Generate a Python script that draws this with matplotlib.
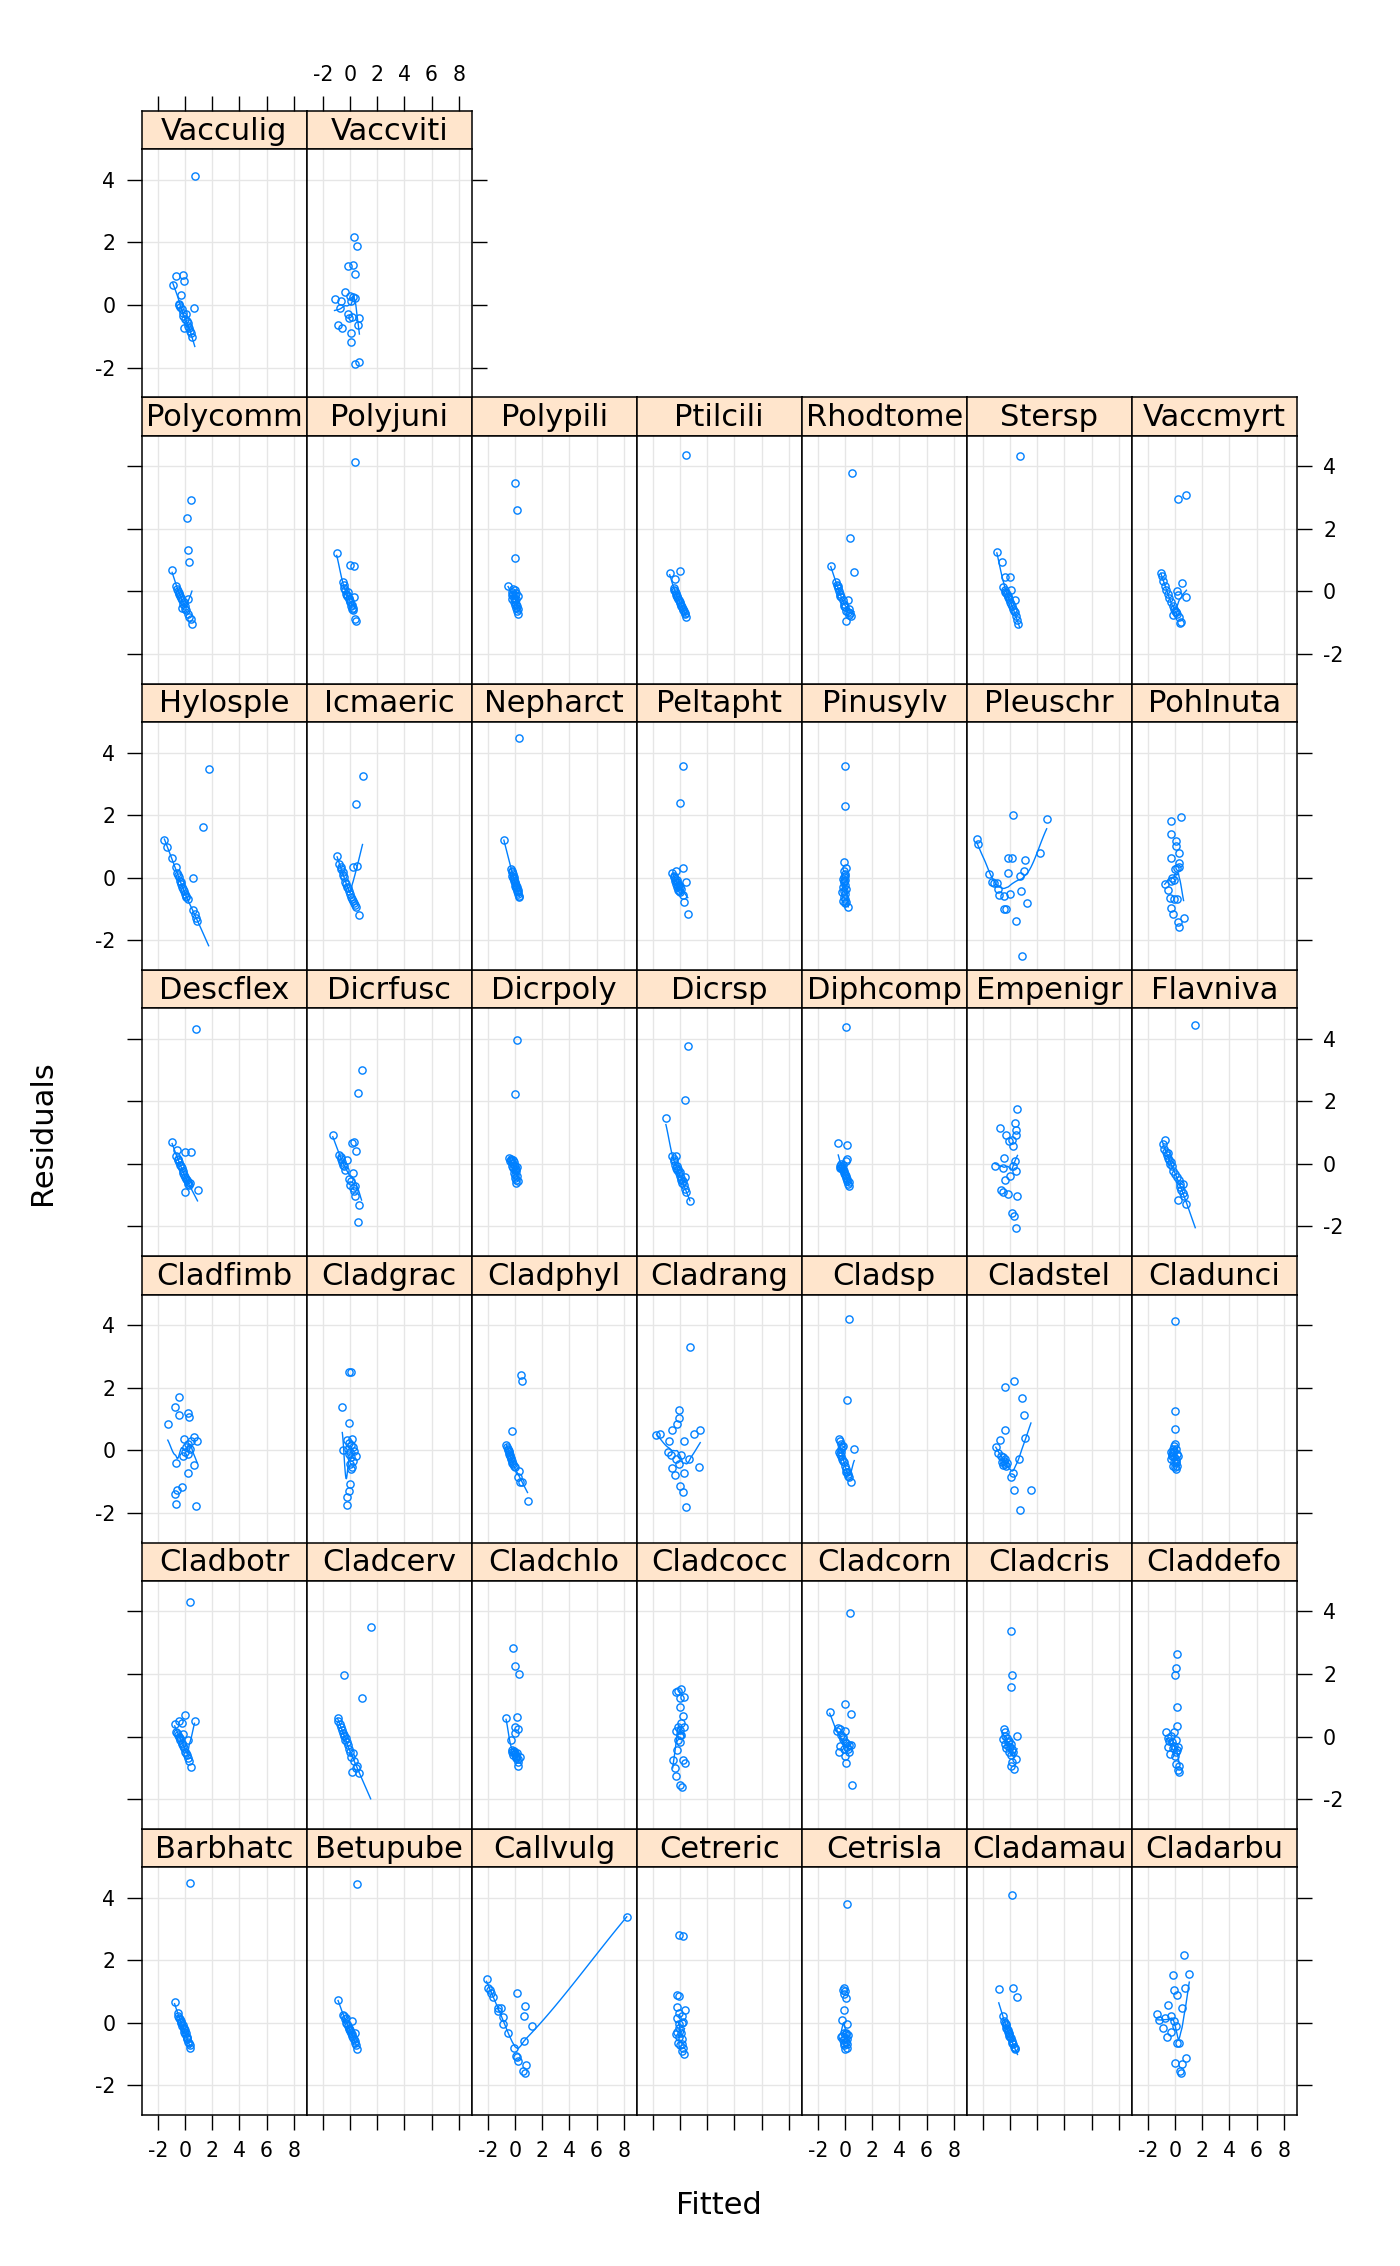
import matplotlib
matplotlib.use("Agg")
import matplotlib.pyplot as plt
import numpy as np

# --- residuals vs fitted, one panel per species (lattice order: bottom-left first) ---
species = [
    "Barbhatc", "Betupube", "Callvulg", "Cetreric", "Cetrisla", "Cladamau", "Cladarbu",
    "Cladbotr", "Cladcerv", "Cladchlo", "Cladcocc", "Cladcorn", "Cladcris", "Claddefo",
    "Cladfimb", "Cladgrac", "Cladphyl", "Cladrang", "Cladsp", "Cladstel", "Cladunci",
    "Descflex", "Dicrfusc", "Dicrpoly", "Dicrsp", "Diphcomp", "Empenigr", "Flavniva",
    "Hylosple", "Icmaeric", "Nepharct", "Peltapht", "Pinusylv", "Pleuschr", "Pohlnuta",
    "Polycomm", "Polyjuni", "Polypili", "Ptilcili", "Rhodtome", "Stersp", "Vaccmyrt",
    "Vacculig", "Vaccviti",
]

barbhatc_fit = [0.39, -0.77, -0.55, -0.5, -0.44, -0.33, -0.28, -0.22, -0.11, -0.06, 0, 0.11, 0.17, 0.22, 0.33, 0.39, -0.39, -0.28, -0.17, -0.11, 0, 0.06, 0.17, 0.28]
barbhatc_res = [4.47, 0.66, 0.33, 0.22, 0.15, 0.06, -0.02, -0.11, -0.19, -0.28, -0.36, -0.45, -0.53, -0.62, -0.7, -0.79, 0.11, 0.02, -0.06, -0.15, -0.23, -0.32, -0.49, -0.66]
betupube_fit = [0.5, -0.88, -0.5, -0.33, 0.11, -0.28, -0.17, -0.06, 0.39, 0.06, 0.17, 0.28, 0.39, 0.5, -0.39, -0.22, -0.11, 0, 0.11, 0.22, 0.33, 0.45, -0.45, 0.03]
betupube_res = [4.44, 0.73, 0.26, 0.17, 0.06, 0.01, -0.1, -0.2, -0.31, -0.31, -0.41, -0.52, -0.63, -0.85, 0.12, -0.04, -0.15, -0.26, -0.36, -0.47, -0.58, -0.72, 0.22, -0.24]
callvulg_fit = [8.23, -2.1, -1.99, -1.82, -1.6, 0.11, -1.27, -1.05, 0.77, -0.88, 0.66, -0.88, 1.22, -0.5, 0.66, -0.06, 0.06, 0.22, 0.83, 0.61, 0.72, -1.22, -1.77, 0.11]
callvulg_res = [3.39, 1.39, 1.13, 1.06, 0.84, 0.97, 0.47, 0.46, 0.54, 0.19, 0.22, -0.04, -0.09, -0.34, -0.57, -0.81, -1.05, -1.21, -1.35, -1.55, -1.61, 0.38, 0.97, -1.1]
cetreric_fit = [-0.06, 0.22, -0.22, -0.06, -0.22, 0.33, -0.06, 0.11, -0.22, 0.22, -0.06, 0.17, -0.22, -0.33, -0.06, 0.11, -0.17, 0, 0.22, 0.11, 0.28, -0.11, 0.06, 0.17]
cetreric_res = [2.8, 2.78, 0.9, 0.86, 0.51, 0.4, 0.33, 0.22, 0.14, 0.04, -0.04, -0.02, -0.28, -0.36, -0.45, -0.52, -0.63, -0.71, -0.79, -0.89, -1.0, -0.15, -0.31, -0.68]
cetrisla_fit = [0.17, -0.11, 0, 0.06, -0.11, -0.22, 0.11, -0.11, 0.06, -0.22, 0, 0.17, -0.17, 0.06, -0.06, 0.11, -0.11, 0.17, 0, -0.28, 0.22, -0.06, -0.17, 0.06]
cetrisla_res = [3.81, 1.13, 1.02, 0.81, 0.41, 0.09, -0.04, -0.31, -0.36, -0.41, -0.47, -0.52, -0.55, -0.6, -0.64, -0.68, -0.72, -0.79, -0.84, -0.45, -0.39, 0.91, 1.05, -0.34]
cladamau_fit = [0.17, -0.83, 0.22, 0.55, -0.5, -0.39, -0.33, -0.28, -0.17, -0.11, -0.06, 0.06, 0.11, 0.22, 0.28, 0.39, -0.33, -0.22, -0.11, 0, 0.17, 0.33, -0.17, -0.44]
cladamau_res = [4.09, 1.09, 1.13, 0.84, 0.22, 0.01, -0.07, -0.16, -0.24, -0.33, -0.41, -0.5, -0.59, -0.67, -0.76, -0.84, -0.03, -0.2, -0.37, -0.46, -0.63, -0.8, -0.29, 0.06]
cladarbu_fit = [0.66, -0.17, 1.05, -0.06, 0.72, 0.11, -0.55, 0.55, -1.33, -0.77, -0.28, -1.16, -0.06, -0.88, 0.06, -0.28, -0.61, 0.11, 0.28, 0.83, 0, 0.5, 0.33, 0.44]
cladarbu_res = [2.18, 1.53, 1.57, 1.05, 1.1, 0.9, 0.56, 0.46, 0.28, 0.17, 0.22, 0.09, 0.06, -0.17, -0.1, -0.28, -0.44, -0.65, -0.63, -1.14, -1.27, -1.31, -1.55, -1.6]
cladbotr_fit = [0.35, 0, 0.7, -0.76, -0.47, -0.22, -0.63, -0.54, -0.13, -0.44, -0.35, 0.19, -0.25, -0.16, -0.06, 0.03, 0.13, 0.22, 0.32, 0.47, -0.57, -0.38, -0.19, 0.06]
cladbotr_res = [4.31, 0.68, 0.51, 0.41, 0.5, 0.42, 0.16, 0.05, 0.09, -0.03, -0.12, -0.12, -0.2, -0.29, -0.37, -0.48, -0.59, -0.69, -0.78, -0.98, 0.11, -0.05, -0.24, -0.53]
cladcerv_fit = [1.52, -0.41, 0.89, -0.92, -0.85, -0.76, -0.66, -0.6, -0.51, -0.41, -0.32, -0.22, -0.09, 0.22, 0.06, 0.32, 0.51, 0.13, 0.66, -0.47, -0.35, -0.16, 0, 0.41]
cladcerv_res = [3.5, 1.96, 1.24, 0.58, 0.49, 0.41, 0.32, 0.21, 0.11, 0.02, -0.05, -0.18, -0.39, -0.53, -0.64, -0.78, -0.94, -1.12, -1.15, 0.05, -0.11, -0.27, -0.48, -1.01]
cladchlo_fit = [-0.13, 0.03, 0.28, -0.66, 0.13, -0.03, 0.22, 0.03, -0.28, -0.19, -0.09, 0, 0.09, 0.38, 0.19, 0.22, -0.25, -0.13, 0.06, -0.06, 0.16, 0.1, -0.02, 0.25]
cladchlo_res = [2.84, 2.24, 2.0, 0.59, 0.61, 0.29, 0.24, 0.11, -0.12, -0.43, -0.51, -0.56, -0.61, -0.66, -0.72, -0.93, -0.48, -0.59, -0.69, -0.46, -0.53, -0.64, -0.52, -0.8]
cladcocc_fit = [-0.28, -0.16, 0.09, 0.28, -0.03, -0.03, 0.22, 0.09, -0.16, 0.32, -0.03, -0.28, 0.09, -0.16, 0.03, -0.22, -0.54, 0.19, 0.35, -0.35, -0.32, 0.03, 0.16, -0.03]
cladcocc_res = [1.44, 1.46, 1.53, 1.27, 1.23, 0.96, 0.67, 0.43, 0.29, 0.32, 0.21, 0.18, 0.05, -0.11, -0.18, -0.43, -0.75, -0.75, -0.85, -0.99, -1.25, -1.55, -1.6, 0.05]
cladcorn_fit = [0.34, 0.03, 0.42, -1.13, -0.52, -0.37, 0, -0.26, -0.13, -0.03, 0.29, 0.45, 0.16, -0.45, 0.31, 0, 0.08, 0.5, -0.6, -0.18, 0.1, -0.08, 0.24, -0.34]
cladcorn_res = [3.94, 1.04, 0.71, 0.77, 0.27, 0.24, 0.17, 0.05, -0.07, -0.18, -0.27, -0.26, -0.34, -0.5, -0.5, -0.63, -0.85, -1.56, 0.19, -0.02, -0.2, -0.39, -0.41, -0.29]
cladcris_fit = [0.05, 0.16, 0.1, -0.47, -0.39, 0.52, -0.52, -0.21, -0.08, -0.34, 0.05, -0.26, 0.18, -0.08, 0.05, 0.45, 0.13, 0.05, 0.26, -0.39, -0.16, 0, 0.24, -0.13]
cladcris_res = [3.36, 1.96, 1.58, 0.25, 0.14, 0.02, -0.07, -0.05, -0.13, -0.23, -0.23, -0.37, -0.39, -0.48, -0.59, -0.73, -0.8, -0.93, -1.05, 0.03, -0.29, -0.34, -0.5, -0.18]
claddefo_fit = [0.18, 0.1, -0.03, 0.13, 0.18, -0.65, -0.08, -0.55, -0.42, 0.1, -0.24, -0.55, -0.1, 0.24, -0.37, 0.05, 0.1, 0.31, 0.21, 0.31, -0.29, -0.16, -0.03, 0.16]
claddefo_res = [2.64, 2.18, 1.96, 0.93, 0.33, 0.14, 0.14, -0.05, -0.13, -0.11, -0.18, -0.34, -0.29, -0.34, -0.55, -0.48, -0.87, -0.93, -1.07, -1.12, 0.03, -0.37, -0.61, -0.42]
cladfimb_fit = [-0.44, -0.76, -0.47, 0.25, 0.32, -1.27, -0.06, 0.63, 0.89, 0.47, 0.25, 0.09, 0.35, 0, -0.16, 0.22, -0.66, 0.66, 0.22, -0.22, -0.6, -0.76, -0.66, 0.82]
cladfimb_res = [1.69, 1.39, 1.12, 1.18, 1.07, 0.83, 0.37, 0.43, 0.28, 0.3, 0.19, 0.11, 0.03, -0.05, -0.2, -0.13, -0.41, -0.47, -0.74, -1.17, -1.28, -1.4, -1.71, -1.78]
cladgrac_fit = [-0.09, 0.09, -0.57, -0.06, -0.22, 0.16, -0.09, 0.06, -0.54, -0.16, 0.32, 0.41, -0.06, 0.09, 0.22, 0.03, 0.16, 0.09, -0.03, -0.09, -0.25, -0.19, 0, 0.19]
cladgrac_res = [2.51, 2.51, 1.37, 0.88, 0.33, 0.35, 0.24, 0.16, 0.01, 0.05, -0.02, -0.18, -0.13, -0.23, -0.34, -0.45, -0.55, -0.61, -1.09, -1.3, -1.48, -1.76, -0.07, 0.09]
cladphyl_fit = [0.44, 0.51, -0.25, -0.63, -0.57, -0.51, -0.44, -0.38, -0.32, -0.25, -0.19, -0.09, 0.32, 0.22, 0.54, 0.38, 0.92, -0.54, -0.47, -0.41, -0.35, -0.28, -0.16, -0.03]
cladphyl_res = [2.39, 2.21, 0.6, 0.18, 0.11, 0.01, -0.07, -0.16, -0.24, -0.33, -0.4, -0.5, -0.66, -0.87, -1.03, -1.01, -1.62, 0.05, -0.03, -0.12, -0.2, -0.29, -0.45, -0.55]
cladrang_fit = [0.73, -0.06, -0.06, -0.22, -0.57, -1.74, -1.46, 1.01, 1.49, -0.79, 0.32, -0.85, -0.66, 0.09, -0.28, 0.63, -0.06, -0.57, 1.42, 0.32, -0.38, 0, 0.25, 0.47]
cladrang_res = [3.3, 1.29, 1.02, 0.85, 0.65, 0.48, 0.51, 0.51, 0.65, 0.28, 0.3, -0.07, -0.16, -0.16, -0.29, -0.29, -0.43, -0.57, -0.52, -0.74, -0.8, -1.14, -1.33, -1.8]
cladsp_fit = [0.26, 0.18, -0.45, -0.34, -0.29, -0.16, 0.68, -0.37, -0.29, -0.24, -0.16, 0.05, 0.13, 0.21, 0.29, 0.42, -0.42, -0.31, -0.21, -0.26, -0.1, -0.03, 0.08, 0.24]
cladsp_res = [4.21, 1.6, 0.35, 0.28, 0.19, 0.14, 0.03, -0.11, -0.18, -0.27, -0.34, -0.61, -0.68, -0.77, -0.87, -1.01, -0.05, 0.03, 0.09, -0.07, -0.39, -0.5, -0.71, -0.82]
cladstel_fit = [0.31, -0.34, 0.86, 1.05, -0.37, 1.13, -0.73, -1.05, -0.86, -0.68, -0.5, -0.34, -0.6, -0.39, -0.21, 0.63, 0.21, 0.05, 0.29, 1.54, 0.76, -0.45, -0.55, -0.29]
cladstel_res = [2.23, 2.01, 1.66, 1.12, 0.66, 0.39, 0.34, 0.09, -0.1, -0.18, -0.23, -0.29, -0.37, -0.45, -0.41, -0.29, -0.74, -0.84, -1.28, -1.26, -1.9, -0.34, -0.48, -0.5]
cladunci_fit = [0, 0, 0, 0, -0.08, 0.05, -0.29, -0.16, 0.16, -0.21, -0.05, 0.1, -0.29, -0.1, 0.05, -0.16, 0, 0.1, -0.24, 0.21, -0.08, 0.08, 0.18, -0.13]
cladunci_res = [4.12, 1.24, 0.68, 0.19, 0.12, 0.05, -0.05, -0.07, -0.13, -0.2, -0.23, -0.29, -0.29, -0.37, -0.41, -0.5, -0.55, -0.61, -0.13, -0.2, -0.02, -0.34, -0.5, 0.03]
descflex_fit = [0.82, -0.95, -0.6, 0.03, 0.41, -0.7, -0.54, -0.44, -0.35, -0.25, -0.16, -0.06, 0.03, 0.13, 0.22, 0.32, 0.92, 0.03, 0.38, -0.51, -0.32, -0.13, 0.06, 0.25]
descflex_res = [4.31, 0.69, 0.44, 0.39, 0.38, 0.25, 0.16, 0.07, -0.02, -0.13, -0.23, -0.34, -0.43, -0.5, -0.59, -0.66, -0.82, -0.9, -0.61, 0.12, -0.07, -0.29, -0.47, -0.63]
dicrfusc_fit = [0.85, 0.57, -1.27, 0.16, 0.32, 0.44, -0.79, -0.7, -0.57, -0.25, -0.44, -0.35, 0.19, -0.09, 0, 0.38, 0.22, 0.35, 0.66, 0.6, -0.63, -0.51, 0.06, 0.28]
dicrfusc_res = [2.99, 2.26, 0.94, 0.67, 0.69, 0.41, 0.27, 0.16, 0.05, 0.12, -0.07, -0.18, -0.29, -0.48, -0.66, -0.69, -0.77, -1.01, -1.31, -1.86, 0.22, -0.02, -0.56, -0.87]
dicrpoly_fit = [0.16, -0.03, -0.44, -0.28, -0.13, -0.38, -0.22, -0.09, 0.03, 0.13, -0.16, -0.03, 0.09, -0.09, 0.03, 0.16, 0, 0.09, 0.19, 0.06, -0.32, -0.19, -0.06, 0.06]
dicrpoly_res = [3.95, 2.24, 0.19, 0.16, 0.14, 0.09, 0.03, -0.02, -0.05, -0.11, -0.13, -0.18, -0.23, -0.29, -0.34, -0.39, -0.45, -0.5, -0.55, -0.61, 0.12, -0.07, 0.05, -0.16]
dicrsp_fit = [0.57, 0.35, -1.04, -0.6, -0.32, -0.47, -0.38, -0.28, -0.19, -0.09, 0, 0.09, 0.35, 0.19, 0.28, 0.38, 0.73, -0.41, -0.22, -0.13, -0.03, 0.06, 0.16, 0.45]
dicrsp_res = [3.77, 2.06, 1.47, 0.25, 0.25, 0.09, -0.02, -0.13, -0.2, -0.29, -0.37, -0.45, -0.42, -0.55, -0.66, -0.8, -1.17, 0.16, -0.05, -0.16, -0.27, -0.5, -0.61, -0.9]
diphcomp_fit = [0.08, -0.5, 0.16, 0.13, 0.05, -0.34, -0.26, -0.18, -0.1, -0.03, 0.05, 0.13, 0.21, 0.29, -0.29, -0.21, -0.13, -0.05, 0.03, 0.1, 0.18, 0.26, -0.37, -0.16]
diphcomp_res = [4.37, 0.68, 0.62, 0.17, 0.1, -0.07, -0.13, -0.2, -0.29, -0.36, -0.45, -0.53, -0.63, -0.69, -0.01, -0.1, -0.17, -0.23, -0.32, -0.39, -0.48, -0.58, -0.14, -0.04]
empenigr_fit = [0.5, 0.37, -0.73, 0.45, -0.26, 0.42, -0.08, 0.18, 0.24, -0.45, -1.13, -0.55, 0.34, 0.24, 0.47, 0.03, -0.39, -0.65, -0.52, -0.16, 0.55, 0.18, 0.26, 0.47]
empenigr_res = [1.77, 1.31, 1.15, 1.08, 0.94, 0.94, 0.73, 0.76, 0.57, 0.19, -0.06, -0.14, 0.1, -0.07, -0.22, -0.38, -0.5, -0.82, -0.9, -0.97, -1.01, -1.57, -1.68, -2.04]
flavniva_fit = [1.49, -0.76, -0.89, -0.79, -0.68, -0.58, -0.5, -0.42, -0.34, -0.24, -0.13, 0, 0.18, 0.29, 0.39, 0.6, 0.34, 0.47, 0.58, 0.68, 0.24, 0.84, -0.55, -0.29]
flavniva_res = [4.45, 0.75, 0.63, 0.49, 0.38, 0.3, 0.2, 0.12, 0.01, -0.07, -0.22, -0.33, -0.42, -0.52, -0.63, -0.63, -0.74, -0.82, -0.93, -1.04, -1.14, -1.27, 0.35, 0.06]
hylosple_fit = [1.74, 1.3, 0.57, -1.52, -1.3, -0.98, -0.7, -0.57, -0.47, -0.38, -0.28, -0.19, -0.09, 0, 0.09, 0.19, 0.57, 0.73, 0.82, 0.89, -0.54, -0.32, -0.13, 0.06]
hylosple_res = [3.47, 1.63, -0.01, 1.21, 0.99, 0.63, 0.35, 0.14, 0.01, -0.1, -0.2, -0.31, -0.42, -0.52, -0.63, -0.68, -1.03, -1.16, -1.29, -1.4, 0.07, -0.15, -0.37, -0.58]
icmaeric_fit = [0.92, 0.41, -0.95, -0.79, -0.63, 0.22, 0.51, -0.54, -0.44, -0.35, -0.22, -0.09, 0.03, 0.16, 0.28, 0.41, 0.66, -0.7, -0.51, -0.28, -0.16, 0.09, 0.22, 0.35]
icmaeric_res = [3.26, 2.37, 0.68, 0.44, 0.33, 0.35, 0.37, 0.17, 0.01, -0.13, -0.29, -0.42, -0.53, -0.68, -0.82, -0.93, -1.2, 0.28, 0.1, -0.2, -0.33, -0.61, -0.74, -0.87]
nepharct_fit = [0.28, -0.82, -0.28, -0.19, -0.25, -0.13, -0.09, -0.03, 0.03, 0.09, 0.16, 0.22, 0.28, -0.16, -0.06, 0, 0.06, 0.13, 0.19, 0.25, 0.32, -0.22, -0.09, 0.09]
nepharct_res = [4.47, 1.2, 0.28, 0.17, 0.06, -0.01, -0.1, -0.18, -0.26, -0.33, -0.42, -0.52, -0.63, 0.12, -0.05, -0.14, -0.22, -0.31, -0.38, -0.47, -0.58, 0.22, 0.03, -0.29]
peltapht_fit = [0.22, 0.03, 0.19, -0.57, -0.28, -0.47, -0.38, -0.32, -0.22, -0.13, 0.44, -0.03, 0.09, 0.25, 0.28, 0.57, -0.41, -0.35, -0.25, -0.16, -0.06, 0.03, -0.09, -0.19]
peltapht_res = [3.58, 2.4, 0.3, 0.14, 0.2, 0.01, -0.1, -0.2, -0.31, -0.4, -0.13, -0.47, -0.36, -0.55, -0.77, -1.16, 0.06, -0.04, -0.15, -0.26, -0.22, -0.31, -0.44, -0.07]
pinusylv_fit = [0.03, 0, -0.1, 0.05, -0.1, -0.03, -0.05, 0.03, -0.08, 0, -0.13, 0.05, -0.05, -0.21, 0.03, -0.1, 0, -0.13, 0.08, -0.03, 0.24, -0.08, 0.03, -0.16]
pinusylv_res = [3.56, 2.28, 0.49, 0.31, 0.2, 0.12, 0.01, -0.07, -0.15, -0.22, -0.31, -0.36, -0.44, -0.47, -0.52, -0.61, -0.68, -0.74, -0.79, -0.82, -0.93, -0.1, 0.06, -0.04]
pleuschr_fit = [-2.46, -2.33, 0.24, 2.7, 2.2, -1.52, -1.36, -1.2, -0.99, -0.86, -0.81, -0.47, 0.03, -0.18, 0.16, 1.07, -0.16, 0.71, 1.02, 0.79, 1.23, -0.42, -0.26, 0.47, 0.86]
pleuschr_res = [1.22, 1.08, 1.99, 1.89, 0.8, 0.12, -0.15, -0.17, -0.17, -0.36, -0.54, -0.58, -0.52, 0.62, 0.62, 0.57, 0.16, 0.04, 0.22, -0.42, -0.82, -1.0, -1.01, -1.38, -2.5]
pohlnuta_fit = [0.42, -0.29, -0.29, 0.05, 0.1, 0.29, -0.29, 0.26, 0.31, 0, 0.16, -0.21, -0.1, -0.29, -0.76, -0.52, -0.34, -0.08, 0.16, -0.29, -0.16, 0.63, 0.24, 0.31]
pohlnuta_res = [1.93, 1.8, 1.38, 1.18, 1.02, 0.78, 0.62, 0.46, 0.35, 0.28, 0.31, -0.01, -0.07, -0.1, -0.19, -0.39, -0.65, -0.68, -0.68, -0.98, -1.16, -1.3, -1.43, -1.59]
polycomm_fit = [0.44, 0.16, 0.25, 0.32, -0.95, -0.66, -0.57, -0.5, -0.41, -0.28, -0.22, 0.19, -0.16, -0.22, -0.03, 0.09, 0.19, 0.28, 0.41, 0.51, -0.35, 0.03, -0.44, -0.1]
polycomm_res = [2.91, 2.36, 1.31, 0.95, 0.67, 0.17, 0.09, 0, -0.1, -0.2, -0.29, -0.26, -0.39, -0.52, -0.48, -0.61, -0.71, -0.82, -0.87, -1.05, -0.15, -0.55, -0.04, -0.34]
polyjuni_fit = [0.38, -0.98, -0.03, 0.32, -0.54, -0.41, -0.35, -0.28, -0.19, 0.28, -0.09, 0.03, 0.13, 0.22, 0.35, 0.41, -0.16, 0, 0.09, 0.19, -0.44, -0.25, -0.06, 0.16]
polyjuni_res = [4.15, 1.22, 0.83, 0.81, 0.29, 0.19, 0.03, -0.09, -0.16, -0.18, -0.26, -0.34, -0.43, -0.52, -0.87, -0.94, -0.02, -0.3, -0.47, -0.59, 0.11, -0.13, -0.21, -0.55]
polypili_fit = [-0.03, 0.16, 0, -0.51, -0.16, -0.03, 0.09, 0.19, -0.25, -0.19, -0.09, 0, 0.06, 0.16, 0.22, -0.13, -0.06, 0.03, 0.09, 0.13, 0.19, -0.22, -0.03, 0.06]
polypili_res = [3.47, 2.59, 1.07, 0.17, 0.09, 0.03, -0.04, -0.16, -0.13, -0.26, -0.34, -0.43, -0.53, -0.64, -0.71, -0.07, -0.21, -0.29, -0.39, -0.48, -0.57, -0.02, -0.13, -0.23]
ptilcili_fit = [0.44, -0.76, 0.03, -0.38, -0.47, -0.38, -0.28, -0.19, -0.09, 0, 0.09, 0.19, 0.28, 0.38, 0.44, -0.44, -0.32, -0.22, -0.13, -0.03, 0.06, 0.16, 0.25, 0.35]
ptilcili_res = [4.37, 0.6, 0.64, 0.4, 0.11, 0, -0.11, -0.19, -0.29, -0.37, -0.47, -0.55, -0.64, -0.73, -0.82, 0.05, -0.05, -0.15, -0.23, -0.33, -0.43, -0.51, -0.6, -0.68]
rhodtome_fit = [0.5, 0.39, 0.65, -1.05, -0.68, -0.6, -0.52, -0.45, -0.37, -0.26, -0.18, 0.24, -0.1, 0, 0.1, 0.21, 0.31, 0.42, 0.1, 0.29, -0.55, -0.34, -0.05, 0.37]
rhodtome_res = [3.8, 1.7, 0.61, 0.82, 0.29, 0.2, 0.11, 0.02, -0.09, -0.17, -0.27, -0.27, -0.41, -0.51, -0.62, -0.67, -0.75, -0.8, -0.94, -0.57, 0.16, -0.14, -0.46, -0.7]
stersp_fit = [0.71, -0.97, -0.6, -0.39, 0, -0.55, -0.39, -0.29, 0.1, -0.18, -0.08, 0.39, 0.03, 0.13, 0.24, 0.34, 0.45, 0.5, 0.58, -0.34, -0.13, 0.08, 0.29, -0.24]
stersp_res = [4.34, 1.25, 0.93, 0.45, 0.45, 0.13, 0.04, -0.05, 0.05, -0.14, -0.25, -0.27, -0.35, -0.46, -0.57, -0.67, -0.78, -0.91, -1.04, -0.01, -0.19, -0.41, -0.62, -0.09]
vaccmyrt_fit = [0.21, 0.84, -1.05, -0.99, -0.86, -0.73, -0.63, -0.52, -0.42, 0.55, 0.16, 0.24, 0.84, -0.29, -0.16, -0.05, 0.05, -0.16, 0.16, 0.31, 0.42, 0.37, -0.03, 0.1]
vaccmyrt_res = [2.96, 3.09, 0.59, 0.5, 0.34, 0.18, 0.05, -0.09, -0.22, 0.27, 0.02, -0.11, -0.19, -0.35, -0.48, -0.56, -0.65, -0.75, -0.72, -0.83, -0.99, -1.02, -0.62, -0.67]
vacculig_fit = [0.72, -0.67, -0.12, -0.05, -0.91, -0.3, -0.47, -0.37, -0.25, 0.67, -0.12, 0, 0.12, -0.07, 0.25, 0.37, 0.49, 0.07, 0.2, -0.17, 0.3, 0.42, -0.42]
vacculig_res = [4.14, 0.93, 0.97, 0.76, 0.65, 0.33, 0.01, -0.07, -0.13, -0.1, -0.34, -0.45, -0.52, -0.75, -0.66, -0.82, -1.02, -0.29, -0.59, -0.24, -0.72, -0.88, 0.03]
vaccviti_fit = [0.27, 0.52, -0.17, 0.22, 0.37, -0.37, -1.14, -0.69, 0, 0.25, 0.05, 0.37, -0.74, -0.12, 0.12, 0.64, 0.59, -0.89, -0.59, 0.1, 0.07, 0.37, 0.69, -0.05]
vaccviti_res = [2.16, 1.89, 1.26, 1.27, 0.98, 0.42, 0.19, 0.12, 0.3, 0.25, 0.14, 0.22, -0.1, -0.29, -0.37, -0.4, -0.64, -0.63, -0.74, -0.88, -1.17, -1.9, -1.81, -0.4]

panel_data = {name: (globals()[name.lower() + "_fit"], globals()[name.lower() + "_res"])
              for name in species}

x_ticks = [-2, 0, 2, 4, 6, 8]
y_ticks = [-2, 0, 2, 4]


def loess_line(x, y, span=2 / 3, iters=4, n_eval=50, cell=0.2):
    # loess, degree 1, family "symmetric": local fits at kd-tree vertices,
    # cubic Hermite interpolation between them
    x = np.asarray(x, float)
    y = np.asarray(y, float)
    n = len(x)
    q = max(int(np.floor(n * span)), 2)
    fc = max(int(np.floor(n * span * cell)), 1)
    xs = np.sort(x)

    mu = 0.005 * max(xs[-1] - xs[0], 1e-10)
    verts = {xs[0] - mu, xs[-1] + mu}

    def split(a, b):
        if b - a + 1 <= fc:
            return
        m = (a + b) // 2
        if xs[m] == xs[m + 1] and xs[a] == xs[b]:
            return
        verts.add((xs[m] + xs[m + 1]) / 2)
        split(a, m)
        split(m + 1, b)

    split(0, n - 1)
    verts = np.array(sorted(verts))

    def local_fit(x0, rw):
        d = np.abs(x - x0)
        h = np.sort(d)[q - 1]
        if h <= 0:
            h = 1e-9
        w = (1 - np.clip(d / h, 0, 1) ** 3) ** 3 * rw
        sw = w.sum()
        if sw <= 0:
            return np.mean(y), 0.0
        xm = (w * x).sum() / sw
        ym = (w * y).sum() / sw
        sxx = (w * (x - xm) ** 2).sum()
        if sxx < 1e-12:
            return ym, 0.0
        b = (w * (x - xm) * (y - ym)).sum() / sxx
        return ym + b * (x0 - xm), b

    def interp(xq, vals, slopes):
        xq = np.asarray(xq, float)
        k = np.clip(np.searchsorted(verts, xq) - 1, 0, len(verts) - 2)
        v0, v1 = verts[k], verts[k + 1]
        hh = v1 - v0
        t = (xq - v0) / hh
        h00 = 2 * t ** 3 - 3 * t ** 2 + 1
        h10 = t ** 3 - 2 * t ** 2 + t
        h01 = -2 * t ** 3 + 3 * t ** 2
        h11 = t ** 3 - t ** 2
        return (h00 * vals[k] + h10 * hh * slopes[k]
                + h01 * vals[k + 1] + h11 * hh * slopes[k + 1])

    rw = np.ones(n)
    for it in range(iters):
        fits = np.array([local_fit(v, rw) for v in verts])
        vals, slopes = fits[:, 0], fits[:, 1]
        if it < iters - 1:
            r = y - interp(x, vals, slopes)
            s = np.median(np.abs(r))
            if s <= 0:
                break
            u = r / (6 * s)
            rw = np.where(np.abs(u) < 1, (1 - u ** 2) ** 2, 0.0)
    grid = np.linspace(xs[0], xs[-1], n_eval)
    return grid, interp(grid, vals, slopes)


plt.rcParams["font.family"] = ["DejaVu Sans"]
plt.rcParams["axes.unicode_minus"] = False

W, H = 1400, 2266
fig = plt.figure(figsize=(W / 100, H / 100), dpi=100)

LEFT, PW = 141.7, 165.0
TOP, PITCH, SH = 111.0, 286.3, 38.3
PH = PITCH - SH
BLUE = "#0080FF"
XLIM = (-3.19, 8.96)
YLIM = (-2.95, 4.98)
tick_kw = dict(direction="out", length=11, width=1.0, labelsize=14.8, pad=8)

for i, name in enumerate(species):
    row = 6 - i // 7
    col = i % 7
    last_in_row = (col == 1) if row == 0 else (col == 6)

    x0 = (LEFT + col * PW) / W
    # strip
    sax = fig.add_axes([x0, 1 - (TOP + row * PITCH + SH) / H, PW / W, SH / H])
    sax.set_facecolor("#FFE5CC")
    sax.set_xlim(*XLIM)
    sax.set_yticks([])
    for sp in sax.spines.values():
        sp.set_linewidth(1.1)
    if row == 0:
        # top axis sits above the strip
        sax.set_xticks(x_ticks)
        sax.tick_params(axis="x", bottom=False, labelbottom=False, top=True,
                        labeltop=(col % 2 == 1), **tick_kw)
    else:
        sax.set_xticks([])
    sax.text(0.5, 0.47, name, ha="center", va="center", fontsize=22,
             transform=sax.transAxes)

    # panel
    ax = fig.add_axes([x0, 1 - (TOP + (row + 1) * PITCH) / H, PW / W, PH / H])
    ax.set_xlim(*XLIM)
    ax.set_ylim(*YLIM)
    ax.set_xticks(x_ticks)
    ax.set_yticks(y_ticks)
    ax.grid(True, color="#E6E6E6", linewidth=1.0)
    ax.set_axisbelow(True)
    for sp in ax.spines.values():
        sp.set_linewidth(1.1)

    ax.tick_params(bottom=False, top=False, left=False, right=False,
                   labelbottom=False, labeltop=False, labelleft=False, labelright=False,
                   **tick_kw)
    if row == 6:
        ax.tick_params(axis="x", bottom=True, labelbottom=(col % 2 == 0))
    if col == 0:
        ax.tick_params(axis="y", left=True, labelleft=(row % 2 == 0))
    if last_in_row:
        ax.tick_params(axis="y", right=True, labelright=(row % 2 == 1))

    fit, res = panel_data[name]
    gx, gy = loess_line(fit, res)
    ax.plot(gx, gy, color=BLUE, linewidth=1.0)
    ax.plot(fit, res, "o", markerfacecolor="none", markeredgecolor=BLUE,
            markersize=5.2, markeredgewidth=1.0)

fig.text(719 / W, 1 - 2206 / H, "Fitted", ha="center", va="center", fontsize=22)
fig.text(43 / W, 1 - 1133 / H, "Residuals", ha="center", va="center", fontsize=22,
         rotation=90)

fig.savefig("out.png", dpi=100)
